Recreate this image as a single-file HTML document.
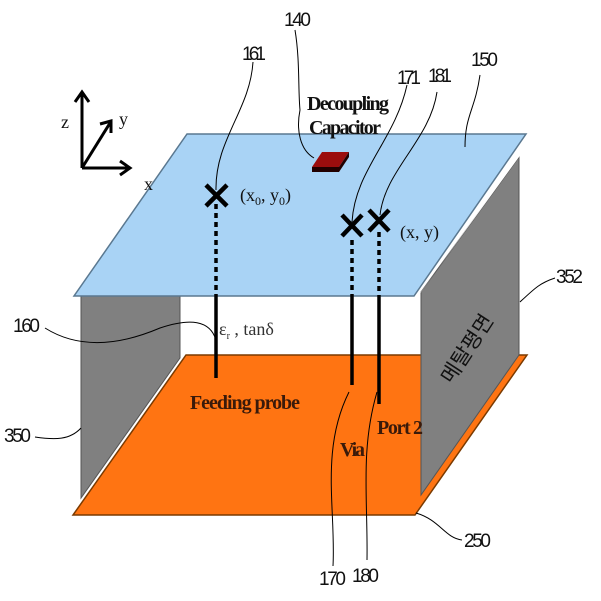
<!DOCTYPE html>
<html><head><meta charset="utf-8"><style>
html,body{margin:0;padding:0;background:#fff;width:601px;height:601px;overflow:hidden}
svg{display:block}
.n{font-family:"Liberation Sans",sans-serif;font-size:19px;fill:#111}
.s{font-family:"Liberation Serif",serif;font-weight:bold;font-size:20px;fill:#3a1a0a}
.t{font-family:"Liberation Serif",serif;font-size:18px;fill:#111}
</style></head><body>
<svg width="601" height="601" viewBox="0 0 601 601">
<polygon points="81,296 180,296 180,358 81,498" fill="#808080" stroke="#555" stroke-width="1"/>
<polygon points="186,355 527,355 415,515 73,515" fill="#ff7412" stroke="#7a3a00" stroke-width="1.5"/>
<polygon points="421,292 519,157 519,355 421,495" fill="#808080" stroke="#555" stroke-width="1"/>
<text transform="translate(452,385) rotate(-57)" style="font-family:'Liberation Sans','Noto Sans CJK KR',sans-serif;font-size:21px;fill:#111">메탈평면</text>
<polygon points="421,292 519,157 524,148 417,298" fill="#fff"/>
<polygon points="187,134 526,134 414,296 74,296" fill="#a9d3f5" stroke="#5a7890" stroke-width="1.5"/>
<polygon points="312,167 322,152 349,152 339,167" fill="#9b0d0d"/>
<polygon points="312,167 339,167 339,172 312,172" fill="#200"/>
<polygon points="339,167 349,152 349,157 339,172" fill="#200"/>
<g stroke="#000" stroke-width="3.5">
<line x1="216" y1="204" x2="216" y2="296" stroke-dasharray="5,4"/>
<line x1="216" y1="296" x2="216" y2="378"/>
<line x1="352" y1="240" x2="352" y2="296" stroke-dasharray="5,4"/>
<line x1="352" y1="296" x2="352" y2="385"/>
<line x1="379" y1="232" x2="379" y2="296" stroke-dasharray="5,4"/>
<line x1="379" y1="296" x2="379" y2="404"/>
</g>
<g stroke="#000" stroke-width="4.5">
<line x1="206" y1="185" x2="227" y2="206"/><line x1="227" y1="185" x2="206" y2="206"/>
<line x1="342" y1="215" x2="362" y2="236"/><line x1="362" y1="215" x2="342" y2="236"/>
<line x1="369" y1="210" x2="389" y2="231"/><line x1="389" y1="210" x2="369" y2="231"/>
</g>
<text class="t" x="240" y="201" font-size="20">(x<tspan font-size="12" dy="4">0</tspan><tspan dy="-4">, y</tspan><tspan font-size="12" dy="4">0</tspan><tspan dy="-4">)</tspan></text>
<text class="t" x="400" y="238" font-size="20">(x, y)</text>
<text class="s" x="307" y="110" style="fill:#111" textLength="82">Decoupling</text>
<text class="s" x="309" y="134" style="fill:#111" textLength="72">Capacitor</text>
<text class="t" x="219" y="335" style="fill:#333">ε<tspan font-size="10" dy="4">r</tspan><tspan dy="-4"> , tanδ</tspan></text>
<text class="s" x="190" y="409" textLength="110">Feeding probe</text>
<text class="s" x="340" y="456" textLength="25">Via</text>
<text class="s" x="377" y="434" textLength="46">Port 2</text>
<g stroke="#000" stroke-width="3" fill="none">
<line x1="82" y1="168" x2="82" y2="94"/><polyline points="75,102 82,92 89,102"/>
<line x1="82" y1="168" x2="128" y2="168"/><polyline points="120,161 130,168 120,175"/>
<line x1="82" y1="168" x2="110" y2="123"/><polyline points="100,124 111,121 111,133"/>
</g>
<text class="t" x="61" y="128">z</text>
<text class="t" x="119" y="125">y</text>
<text class="t" x="144" y="190">x</text>
<g stroke="#000" stroke-width="1" fill="none">
<path d="M295,30 C300,60 298,90 300,110 C296,130 300,150 314,158"/>
<path d="M253,62 C250,110 215,140 216,190"/>
<path d="M407,85 C395,140 355,170 352,222"/>
<path d="M437,92 C430,140 385,170 380,215"/>
<path d="M480,75 C475,110 465,115 465,147"/>
<path d="M520,302 C535,288 540,283 555,278"/>
<path d="M45,328 C80,350 120,345 160,328 C190,318 210,320 216,340"/>
<path d="M35,437 C55,440 70,440 81,428"/>
<path d="M416,513 C440,520 445,538 462,540"/>
<path d="M333,566 C336,510 320,450 349,392"/>
<path d="M367,560 C368,500 360,450 377,392"/>
</g>
<text class="n" x="284" y="26" textLength="27">140</text>
<text class="n" x="242" y="60" textLength="24">161</text>
<text class="n" x="397" y="84" textLength="24">171</text>
<text class="n" x="428" y="82" textLength="24">181</text>
<text class="n" x="471" y="66" textLength="27">150</text>
<text class="n" x="556" y="283" textLength="27">352</text>
<text class="n" x="13" y="332" textLength="27">160</text>
<text class="n" x="4" y="442" textLength="27">350</text>
<text class="n" x="464" y="547" textLength="27">250</text>
<text class="n" x="319" y="585" textLength="27">170</text>
<text class="n" x="352" y="582" textLength="27">180</text>
</svg>
</body></html>
